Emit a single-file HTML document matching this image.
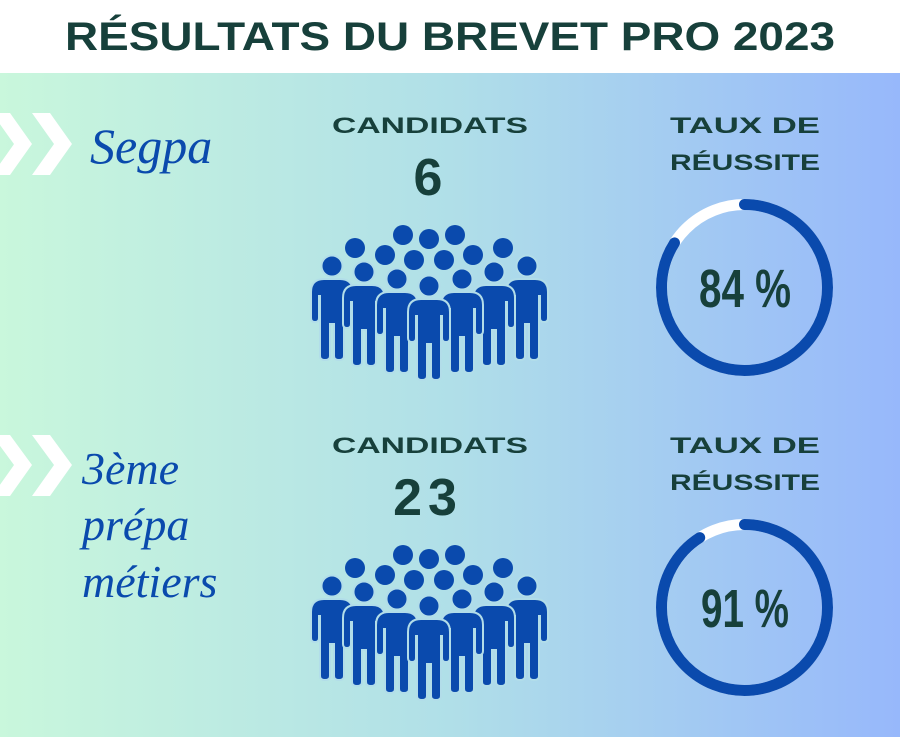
<!DOCTYPE html>
<html><head><meta charset="utf-8"><style>html,body{margin:0;padding:0;width:900px;height:737px;overflow:hidden}</style></head>
<body>
<svg width="900" height="737" viewBox="0 0 900 737" xmlns="http://www.w3.org/2000/svg">
<defs>
<linearGradient id="bg" x1="0" y1="0" x2="1" y2="0">
<stop offset="0" stop-color="#c9f7dc"/><stop offset="0.5" stop-color="#b0dfe8"/><stop offset="1" stop-color="#97b8fb"/>
</linearGradient>
<g id="p">
<circle cx="0" cy="0" r="10.5"/>
<path d="M-21,26 Q-21,13 -8,13 L8,13 Q21,13 21,26 L21,52 Q21,56 17,56 Q13,56 13,52 L13,30 L12,30 L12,90 Q12,94 7,94 Q2,94 2,90 L2,58 L-2,58 L-2,90 Q-2,94 -7,94 Q-12,94 -12,90 L-12,30 L-13,30 L-13,52 Q-13,56 -17,56 Q-21,56 -21,52 Z"/>
</g>
<g id="crowd" fill="#0a4aad">
<circle cx="403" cy="235" r="10"/><circle cx="429" cy="239" r="10"/><circle cx="455" cy="235" r="10"/>
<circle cx="355" cy="248" r="10"/><circle cx="385" cy="255" r="10"/><circle cx="414" cy="260" r="10"/>
<circle cx="444" cy="260" r="10"/><circle cx="473" cy="255" r="10"/><circle cx="503" cy="248" r="10"/>
<g stroke="#b2dde9" stroke-width="2">
<use href="#p" x="332" y="266"/><use href="#p" x="527" y="266"/>
<use href="#p" x="364" y="272"/><use href="#p" x="494" y="272"/>
<use href="#p" x="397" y="279"/><use href="#p" x="462" y="279"/>
<use href="#p" x="429" y="286"/>
</g>
</g>
</defs>
<rect width="900" height="737" fill="url(#bg)"/>
<rect width="900" height="73" fill="#fff"/>
<text x="450" y="50" text-anchor="middle" font-family="Liberation Sans, sans-serif" font-weight="bold" font-size="40" fill="#17403b" textLength="770" lengthAdjust="spacingAndGlyphs">RÉSULTATS DU BREVET PRO 2023</text>

<g fill="#fff">
<polygon points="-8,113 10,113 32,144 10,175 -8,175 14,144"/>
<polygon points="32,113 50,113 72,144 50,175 32,175 54,144"/>
<polygon points="-8,435 10,435 32,465 10,496 -8,496 14,465"/>
<polygon points="32,435 50,435 72,465 50,496 32,496 54,465"/>
</g>
<g font-family="Liberation Serif, serif" font-style="italic" fill="#0a4aad">
<text x="90" y="163" font-size="50">Segpa</text>
<text x="82" y="484" font-size="46">3ème</text>
<text x="82" y="540" font-size="46">prépa</text>
<text x="82" y="597" font-size="46">métiers</text>
</g>

<g font-family="Liberation Sans, sans-serif" font-weight="bold" fill="#17403b" text-anchor="middle">
<text x="430" y="133" font-size="22" textLength="196" lengthAdjust="spacingAndGlyphs">CANDIDATS</text>
<text x="428" y="195" font-size="52">6</text>
<text x="430" y="453" font-size="22" textLength="196" lengthAdjust="spacingAndGlyphs">CANDIDATS</text>
<text x="428" y="515" font-size="52" letter-spacing="6">23</text>
<text x="745" y="133" font-size="22" textLength="150" lengthAdjust="spacingAndGlyphs">TAUX DE</text>
<text x="745" y="170" font-size="22" textLength="150" lengthAdjust="spacingAndGlyphs">RÉUSSITE</text>
<text x="745" y="453" font-size="22" textLength="150" lengthAdjust="spacingAndGlyphs">TAUX DE</text>
<text x="745" y="490" font-size="22" textLength="150" lengthAdjust="spacingAndGlyphs">RÉUSSITE</text>
</g>

<use href="#crowd"/>
<use href="#crowd" y="320"/>

<circle cx="744.5" cy="287.5" r="83" fill="none" stroke="#fff" stroke-width="11"/>
<circle cx="744.5" cy="287.5" r="83" fill="none" stroke="#0a4aad" stroke-width="11" stroke-linecap="round" stroke-dasharray="438 1000" transform="rotate(-90 744.5 287.5)"/>
<circle cx="744.5" cy="607.5" r="83" fill="none" stroke="#fff" stroke-width="11"/>
<circle cx="744.5" cy="607.5" r="83" fill="none" stroke="#0a4aad" stroke-width="11" stroke-linecap="round" stroke-dasharray="474 1000" transform="rotate(-90 744.5 607.5)"/>

<g font-family="Liberation Sans, sans-serif" font-weight="bold" fill="#17403b" font-size="54" text-anchor="middle">
<text x="745" y="307" textLength="92" lengthAdjust="spacingAndGlyphs">84 %</text>
<text x="745" y="627" textLength="88" lengthAdjust="spacingAndGlyphs">91 %</text>
</g>
</svg>
</body></html>
